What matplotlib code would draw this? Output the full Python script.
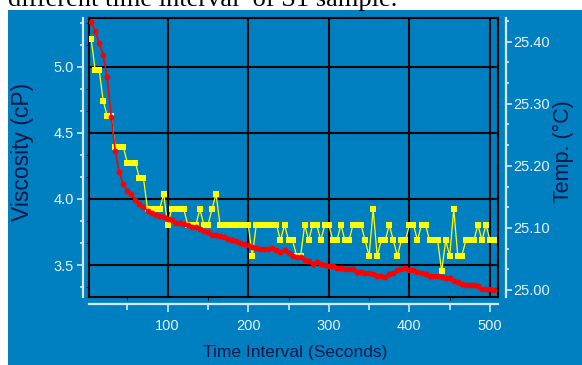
import matplotlib.pyplot as plt
from matplotlib.patches import Rectangle
from matplotlib.ticker import MultipleLocator, FormatStrFormatter

# sample times (s), one reading every 5 s
time_s = [
    5, 10, 15, 20, 25, 30, 35, 40, 45, 50,
    55, 60, 65, 70, 75, 80, 85, 90, 95, 100,
    105, 110, 115, 120, 125, 130, 135, 140, 145, 150,
    155, 160, 165, 170, 175, 180, 185, 190, 195, 200,
    205, 210, 215, 220, 225, 230, 235, 240, 245, 250,
    255, 260, 265, 270, 275, 280, 285, 290, 295, 300,
    305, 310, 315, 320, 325, 330, 335, 340, 345, 350,
    355, 360, 365, 370, 375, 380, 385, 390, 395, 400,
    405, 410, 415, 420, 425, 430, 435, 440, 445, 450,
    455, 460, 465, 470, 475, 480, 485, 490, 495, 500, 505,
]

# viscosity (cP)
viscosity_cp = [
    5.34, 5.27, 5.18, 5.09, 4.92, 4.62, 4.36, 4.20, 4.11, 4.06,
    4.04, 3.99, 3.96, 3.94, 3.91, 3.89, 3.88, 3.87, 3.86, 3.85,
    3.84, 3.82, 3.82, 3.81, 3.80, 3.79, 3.79, 3.77, 3.76, 3.75,
    3.73, 3.73, 3.72, 3.71, 3.70, 3.69, 3.68, 3.67, 3.66, 3.65,
    3.64, 3.63, 3.62, 3.62, 3.62, 3.63, 3.61, 3.60, 3.61, 3.59,
    3.57, 3.56, 3.56, 3.54, 3.53, 3.51, 3.52, 3.51, 3.50, 3.49,
    3.49, 3.48, 3.48, 3.47, 3.47, 3.47, 3.45, 3.45, 3.44, 3.44,
    3.43, 3.42, 3.42, 3.41, 3.43, 3.44, 3.46, 3.47, 3.48, 3.46,
    3.46, 3.45, 3.44, 3.43, 3.42, 3.42, 3.42, 3.41, 3.40, 3.40,
    3.38, 3.37, 3.36, 3.35, 3.35, 3.35, 3.34, 3.32, 3.32, 3.32, 3.31,
]

# sample temperature (deg C)
temperature_c = [
    25.405, 25.355, 25.355, 25.305, 25.28, 25.28, 25.23, 25.23, 25.23, 25.205,
    25.205, 25.205, 25.18, 25.18, 25.13, 25.13, 25.13, 25.13, 25.155, 25.105,
    25.13, 25.13, 25.13, 25.13, 25.105, 25.105, 25.105, 25.13, 25.105, 25.105,
    25.13, 25.155, 25.105, 25.105, 25.105, 25.105, 25.105, 25.105, 25.105, 25.105,
    25.055, 25.105, 25.105, 25.105, 25.105, 25.105, 25.105, 25.08, 25.105, 25.08,
    25.08, 25.055, 25.055, 25.105, 25.08, 25.105, 25.105, 25.08, 25.105, 25.105,
    25.08, 25.08, 25.105, 25.08, 25.08, 25.105, 25.105, 25.105, 25.08, 25.055,
    25.13, 25.055, 25.08, 25.08, 25.105, 25.08, 25.055, 25.08, 25.08, 25.105,
    25.105, 25.08, 25.105, 25.105, 25.08, 25.08, 25.08, 25.03, 25.08, 25.055,
    25.13, 25.055, 25.055, 25.08, 25.08, 25.08, 25.105, 25.08, 25.105, 25.08, 25.08,
]

x_ticks = [100, 200, 300, 400, 500]
visc_ticks = [3.5, 4.0, 4.5, 5.0]
temp_ticks = [25.00, 25.10, 25.20, 25.30, 25.40]

panel_blue = '#0080c0'
axis_light = '#d4e9f7'
label_light = '#e8f4ff'
label_dark = '#0c1848'
sans = ['Liberation Sans', 'DejaVu Sans']

W, H = 582, 365
fig = plt.figure(figsize=(W / 100, H / 100), dpi=100, facecolor='white')

# blue instrument panel behind the chart
fig.add_artist(Rectangle((8 / W, 0), 1 - 8 / W, 1 - 10 / H, transform=fig.transFigure,
                         facecolor=panel_blue, edgecolor='none', zorder=-10))

# caption line running off the top edge
fig.text(8 / W, 1 - 6 / H, 'different time interval  of S1 sample.',
         family=['Liberation Serif', 'DejaVu Serif'], fontsize=19,
         color='black', ha='left', va='baseline')

rect = [89 / W, 1 - 297 / H, (498 - 89) / W, (297 - 17.7) / H]

# grid + black frame underneath the data
ax_g = fig.add_axes(rect, zorder=1)
ax_v = fig.add_axes(rect, zorder=3, sharex=ax_g, sharey=ax_g)
ax_t = fig.add_axes(rect, zorder=2, sharex=ax_g)

for a in (ax_g, ax_v, ax_t):
    a.patch.set_visible(False)

ax_g.set_xlim(2.4, 509.9)
ax_g.set_ylim(3.258, 5.371)
ax_g.set_xticks(x_ticks)
ax_g.set_yticks(visc_ticks)
ax_g.grid(True, color='#050505', linewidth=1.5)
ax_g.tick_params(left=False, bottom=False, labelleft=False, labelbottom=False)
for s in ax_g.spines.values():
    s.set_color('#050505')
    s.set_linewidth(1.5)

# viscosity: left and bottom axes
ax_v.plot(time_s, viscosity_cp, color='#ff0000', linewidth=1.2,
          marker='o', markersize=4.2, markeredgewidth=0, zorder=3)
for side in ('top', 'right'):
    ax_v.spines[side].set_visible(False)
ax_v.spines['left'].set_position(('outward', 4.3))
ax_v.spines['bottom'].set_position(('outward', 5.0))
for side in ('left', 'bottom'):
    ax_v.spines[side].set_color(axis_light)
    ax_v.spines[side].set_linewidth(1.6)
ax_v.xaxis.set_minor_locator(MultipleLocator(50))
ax_v.yaxis.set_minor_locator(MultipleLocator(1 / 6))
ax_v.yaxis.set_major_formatter(FormatStrFormatter('%.1f'))
ax_v.tick_params(axis='y', which='major', direction='out', length=4.3, width=1.2,
                 color=axis_light, pad=2.5, labelcolor=label_light, labelsize=10.5)
ax_v.tick_params(axis='y', which='minor', direction='out', length=2.2, width=1.2,
                 color=axis_light)
ax_v.tick_params(axis='x', which='major', direction='out', length=5.5, width=1.2,
                 color=axis_light, pad=5, labelcolor=label_light, labelsize=10.5)
ax_v.tick_params(axis='x', which='minor', direction='out', length=4.2, width=1.2,
                 color=axis_light)
for lab in ax_v.get_xticklabels() + ax_v.get_yticklabels():
    lab.set_family(sans)

# temperature: right axis
ax_t.plot(time_s, temperature_c, color='#ffff00', linewidth=0.9,
          marker='s', markersize=4.0, markeredgewidth=0, zorder=2)
ax_t.set_ylim(24.9887, 25.4387)
ax_t.set_yticks(temp_ticks)
ax_t.yaxis.set_minor_locator(MultipleLocator(0.1 / 3))
ax_t.yaxis.set_major_formatter(FormatStrFormatter('%.2f'))
ax_t.yaxis.tick_right()
for side in ('top', 'left', 'bottom'):
    ax_t.spines[side].set_visible(False)
ax_t.spines['right'].set_position(('outward', 5.5))
ax_t.spines['right'].set_color(axis_light)
ax_t.spines['right'].set_linewidth(1.6)
ax_t.tick_params(axis='x', bottom=False, labelbottom=False)
ax_t.tick_params(axis='y', which='major', direction='out', length=4.3, width=1.2,
                 color=axis_light, pad=1.2, labelcolor=label_light, labelsize=10.5)
ax_t.tick_params(axis='y', which='minor', direction='out', length=2.4, width=1.2,
                 color=axis_light)
for lab in ax_t.get_yticklabels():
    lab.set_family(sans)

# axis titles
fig.text(22 / W, 1 - 152 / H, 'Viscosity (cP)', rotation=90, family=sans,
         fontsize=16.5, color=label_dark, ha='center', va='center')
fig.text(563 / W, 1 - 152 / H, 'Temp. (°C)', rotation=90, family=sans,
         fontsize=15.5, color=label_dark, ha='center', va='center')
fig.text(295 / W, 1 - 353 / H, 'Time Interval (Seconds)', family=sans,
         fontsize=12.5, color=label_dark, ha='center', va='center')

fig.savefig('out.png', dpi=100, facecolor='white')
